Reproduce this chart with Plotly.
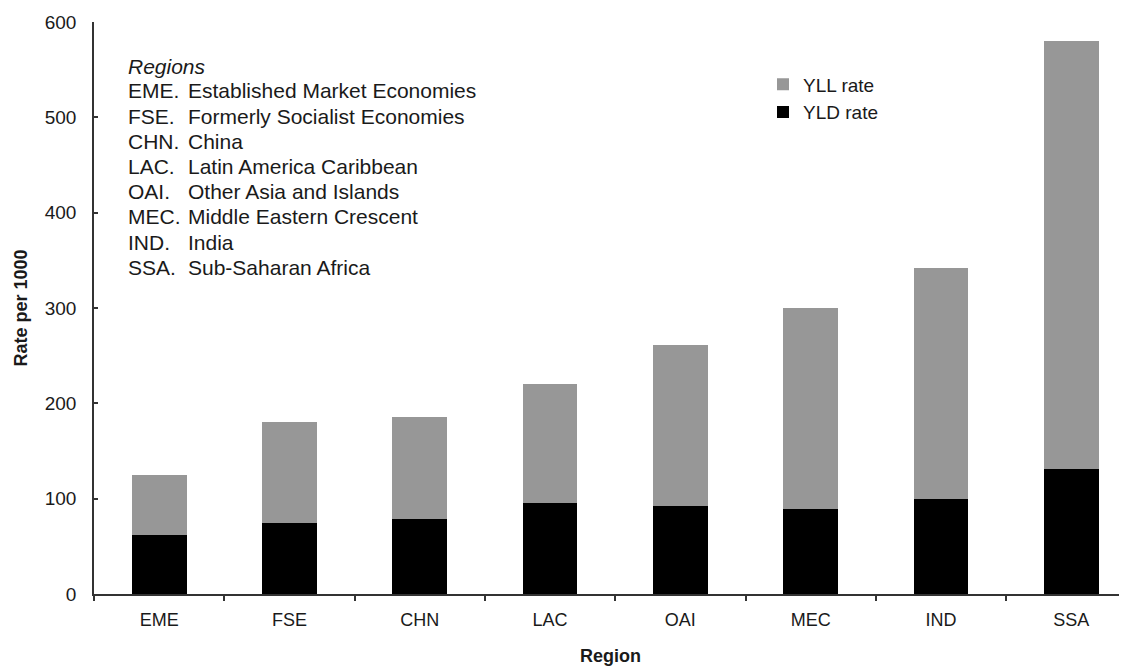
import plotly.graph_objects as go

# ---- data ----
regions = ["EME", "FSE", "CHN", "LAC", "OAI", "MEC", "IND", "SSA"]
yld_rate = [62, 74, 79, 95, 92, 89, 100, 131]
yll_rate = [63, 106, 107, 125, 169, 211, 242, 449]
key_codes = ["EME.", "FSE.", "CHN.", "LAC.", "OAI.", "MEC.", "IND.", "SSA."]
key_names = ["Established Market Economies", "Formerly Socialist Economies", "China",
             "Latin America Caribbean", "Other Asia and Islands", "Middle Eastern Crescent",
             "India", "Sub-Saharan Africa"]
y_ticks = [0, 100, 200, 300, 400, 500, 600]

# ---- layout constants (pixels, screen coords; page body has an 8px margin) ----
OX, OY = 8, 8
W, H = 1127 - OX, 667 - OY
L = 94 - OX
T = 21.5 - OY
B = H - (594 - OY)
plot_w = W - L
plot_h = H - T - B
FONT = "Liberation Sans, Arial, sans-serif"
TXT = "#1a1a1a"


def px_x(x):
    return (x - OX - L) / plot_w


def px_y(y):
    return (H - B - (y - OY)) / plot_h


fig = go.Figure()
fig.add_trace(go.Bar(x=regions, y=yld_rate, name="YLD rate",
                     marker=dict(color="#000000", line=dict(width=0))))
fig.add_trace(go.Bar(x=regions, y=yll_rate, name="YLL rate",
                     marker=dict(color="#979797", line=dict(width=0))))

KEYFONT = dict(family=FONT, size=21, color=TXT)
annotations = [dict(text="<i>Regions</i>", x=px_x(126), y=px_y(66), xref="paper", yref="paper",
                    xanchor="left", yanchor="middle", showarrow=False, font=KEYFONT)]
for i, (c, n) in enumerate(zip(key_codes, key_names)):
    yc = 90.5 + 25.2 * i
    annotations.append(dict(text=c, x=px_x(126), y=px_y(yc), xref="paper", yref="paper",
                            xanchor="left", yanchor="middle", showarrow=False, font=KEYFONT))
    annotations.append(dict(text=n, x=px_x(186), y=px_y(yc), xref="paper", yref="paper",
                            xanchor="left", yanchor="middle", showarrow=False, font=KEYFONT))

fig.update_layout(
    width=W, height=H,
    margin=dict(l=L, r=0, t=T, b=B, pad=0, autoexpand=False),
    barmode="stack",
    bargap=0.58,
    plot_bgcolor="white", paper_bgcolor="white",
    font=dict(family=FONT, color=TXT, size=19),
    legend=dict(x=px_x(763), y=px_y(65), xanchor="left", yanchor="top",
                traceorder="reversed", font=dict(family=FONT, size=19, color=TXT),
                bgcolor="rgba(0,0,0,0)"),
    annotations=annotations,
    xaxis=dict(
        type="category", automargin=False,
        range=[-0.5, -0.5 + plot_w / 130.3],
        showline=True, linecolor="#333333", linewidth=1.5,
        ticks="outside", tickson="boundaries", ticklen=5, tickcolor="#333333", tickwidth=1.5,
        tickfont=dict(family=FONT, size=18, color=TXT),
        ticklabelstandoff=9,
        showgrid=False, zeroline=False,
        title=dict(text="<b>Region</b>", font=dict(family=FONT, size=18, color=TXT), standoff=20),
    ),
    yaxis=dict(
        range=[0, 600], automargin=False,
        tickvals=y_ticks,
        showline=True, linecolor="#333333", linewidth=1.5,
        ticks="inside", ticklen=4, tickcolor="#333333", tickwidth=1.5,
        tickfont=dict(family=FONT, size=19, color=TXT),
        ticklabelstandoff=12,
        showgrid=False, zeroline=False,
        title=dict(text="<b>Rate per 1000</b>", font=dict(family=FONT, size=18, color=TXT), standoff=12),
    ),
)

fig.write_html("out.html")
